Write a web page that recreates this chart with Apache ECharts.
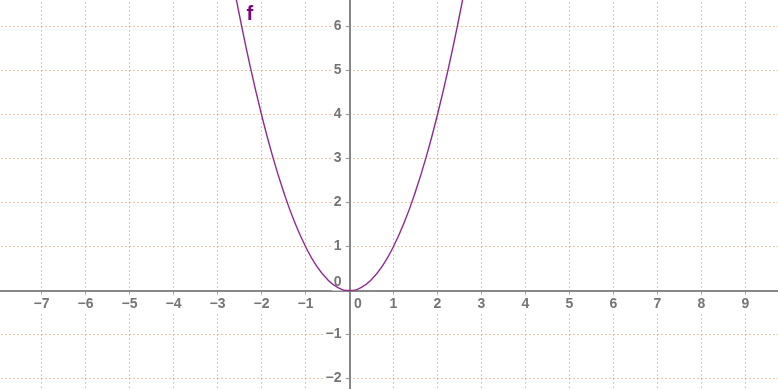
<!DOCTYPE html>
<html><head><meta charset="utf-8">
<script src="https://cdn.jsdelivr.net/npm/echarts@6/dist/echarts.min.js"></script>
<style>html,body{margin:0;padding:0;background:#fff}#c{width:778px;height:389px}</style>
</head><body><div id="c"></div>
<script>
// tick labels shown on the axes
const xTicks = [-7,-6,-5,-4,-3,-2,-1,0,1,2,3,4,5,6,7,8,9];
const yTicks = [-2,-1,0,1,2,3,4,5,6];
const curveX = [-2.7,-2.5,-2.25,-2,-1.75,-1.5,-1.25,-1,-0.75,-0.5,-0.25,0,0.25,0.5,0.75,1,1.25,1.5,1.75,2,2.25,2.5,2.7];
const curveY = [7.29,6.25,5.06,4,3.06,2.25,1.56,1,0.56,0.25,0.06,0,0.06,0.25,0.56,1,1.56,2.25,3.06,4,5.06,6.25,7.29];
const funcName = 'f';
const labelAtX = -2.5;

const fmt = v => (v < 0 ? '\u2212' + Math.abs(v) : String(v));
const labelFont = {fontFamily: 'Liberation Sans', fontSize: 14, fontWeight: 'bold', color: '#757575'};
const gridLine = () => ({show: true, lineStyle: {color: '#f0823a', width: 1, type: [1, 3]}});

// layout of the plot area (pixels)
const G = {left: -2.5, right: -11.5, top: -17.5, bottom: -33.5};
const XMIN = -8, XMAX = 10, YMIN = -3, YMAX = 7;
const W = 778 - G.left - G.right, H = 389 - G.top - G.bottom;
const zeroFromBottom = H * (0 - YMIN) / (YMAX - YMIN);
const zeroFromLeft = W * (0 - XMIN) / (XMAX - XMIN);

const data = curveX.map((x, i) => {
  const item = {value: [x, curveY[i]]};
  if (x === labelAtX) {
    item.label = {show: true, formatter: funcName, position: 'right', distance: 5, offset: [2, -1],
      fontFamily: 'Liberation Sans', fontSize: 20, fontWeight: 'bold', color: '#800080'};
  }
  return item;
});

const chart = echarts.init(document.getElementById('c'), null, {renderer: 'canvas'});
chart.setOption({
  animation: false,
  backgroundColor: '#fff',
  grid: {...G, containLabel: false, outerBoundsMode: 'none'},
  xAxis: [
    {type: 'value', min: XMIN, max: XMAX, interval: 1, z: 1, position: 'bottom', offset: -zeroFromBottom,
     axisLine: {onZero: false, lineStyle: {color: '#888', width: 2}},
     axisTick: {show: true, length: 3, lineStyle: {color: '#888', width: 1}},
     splitLine: {show: false},
     axisLabel: {margin: 5, ...labelFont,
       formatter: v => {
         if (!xTicks.includes(v)) return '';
         if (v === 0) return '{s| }{b|0}';
         return '{b|' + fmt(v) + '}';
       },
       rich: {b: {...labelFont, backgroundColor: '#fff', padding: [2, 2]}, s: {width: 17}}}},
    {type: 'value', min: XMIN, max: XMAX, interval: 1, z: 0, position: 'top',
     axisLine: {show: false}, axisTick: {show: false}, axisLabel: {show: false},
     splitLine: gridLine()}
  ],
  yAxis: [
    {type: 'value', min: YMIN, max: YMAX, interval: 1, z: 1, position: 'left', offset: -zeroFromLeft,
     axisLine: {onZero: false, lineStyle: {color: '#888', width: 2}},
     axisTick: {show: true, length: 3, lineStyle: {color: '#888', width: 1}},
     splitLine: {show: false},
     axisLabel: {margin: 6, ...labelFont,
       formatter: v => {
         if (!yTicks.includes(v)) return '';
         if (v === 0) return '{b|0}\n{s| }';
         return '{b|' + fmt(v) + '}';
       },
       rich: {b: {...labelFont, backgroundColor: '#fff', padding: [1, 2]}, s: {height: 16}}}},
    {type: 'value', min: YMIN, max: YMAX, interval: 1, z: 0, position: 'right',
     axisLine: {show: false}, axisTick: {show: false}, axisLabel: {show: false},
     splitLine: gridLine()}
  ],
  series: [{
    type: 'line', xAxisIndex: 0, yAxisIndex: 0, z: 3,
    data: data, showSymbol: true, symbol: 'circle', symbolSize: 0, smooth: true, clip: true,
    lineStyle: {color: '#8e2a8e', width: 1.4}
  }]
});
</script></body></html>
